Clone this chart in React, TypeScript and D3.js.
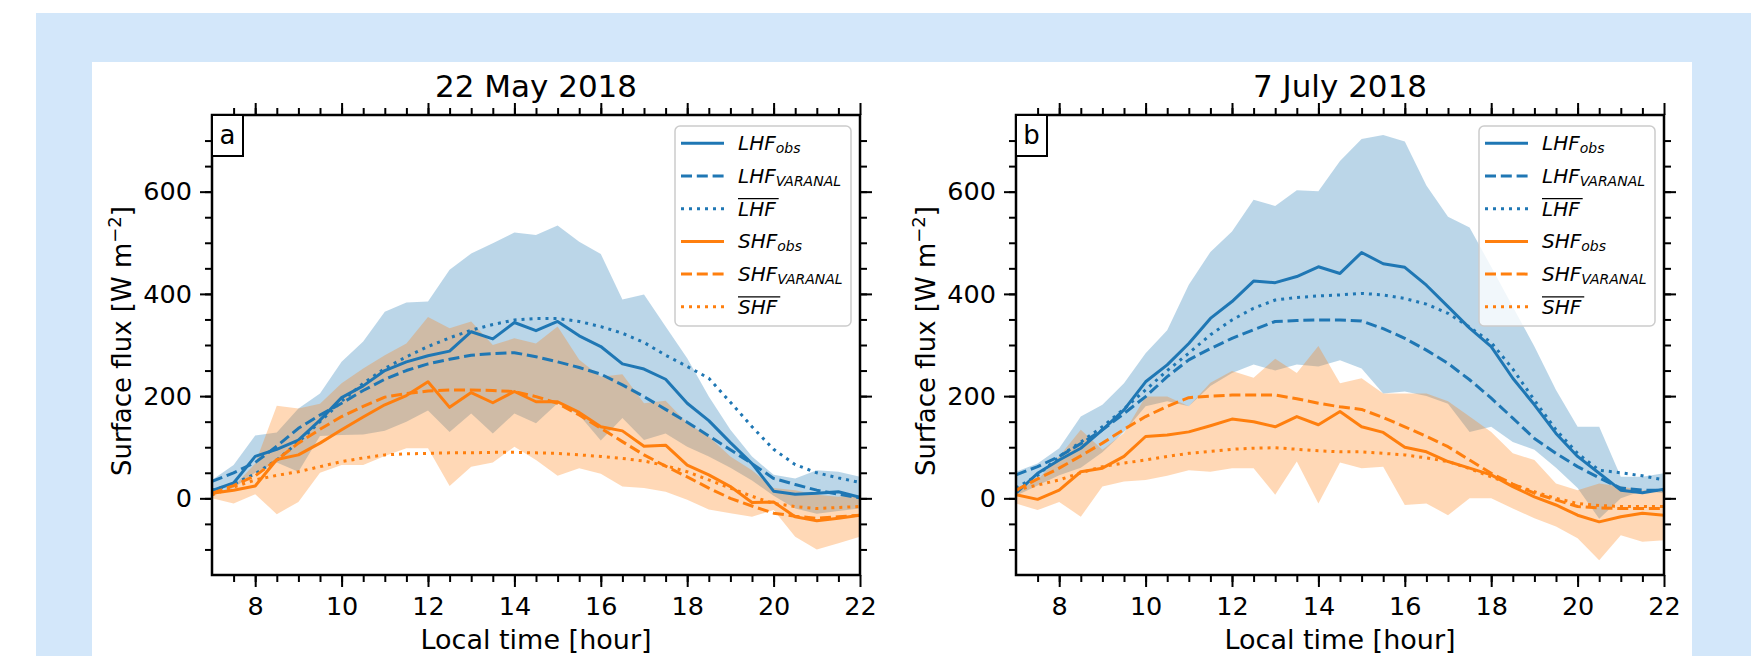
import React, { useEffect, useRef } from 'react';
import * as d3 from 'd3';

// half-hourly local time
const hours = [7, 7.5, 8, 8.5, 9, 9.5, 10, 10.5, 11, 11.5, 12, 12.5, 13, 13.5, 14, 14.5, 15, 15.5, 16, 16.5, 17, 17.5, 18, 18.5, 19, 19.5, 20, 20.5, 21, 21.5, 22];
const xTickLabels = [8, 10, 12, 14, 16, 18, 20, 22];
const yTickLabels = [0, 200, 400, 600];

const legendNames = ['LHF', 'LHF', 'LHF', 'SHF', 'SHF', 'SHF'];
const legendSubs = ['obs', 'VARANAL', '', 'obs', 'VARANAL', ''];
const legendStyles = ['solid', 'dashed', 'dotted', 'solid', 'dashed', 'dotted'];

// 22 May 2018
const mayLhfObs = [15, 30, 82, 96, 114, 153, 197, 220, 250, 267, 279, 288, 326, 312, 344, 328, 346, 318, 297, 263, 253, 233, 186, 152, 109, 68, 14, 8, 10, 13, 2];
const mayLhfVar = [33, 50, 70, 102, 137, 163, 186, 211, 233, 250, 263, 272, 280, 283, 285, 277, 267, 256, 243, 222, 199, 174, 149, 122, 95, 68, 39, 27, 16, 8, 1];
const mayLhfMean = [16, 28, 48, 75, 110, 150, 190, 225, 254, 277, 297, 314, 329, 340, 349, 352, 352, 346, 336, 323, 305, 280, 258, 235, 188, 140, 96, 66, 50, 40, 31];
const mayLhfHigh = [36, 65, 123, 129, 176, 205, 267, 307, 365, 383, 385, 447, 479, 499, 520, 515, 534, 502, 478, 389, 399, 336, 274, 199, 134, 82, 46, 39, 55, 52, 42];
const mayLhfLow = [5, 20, 50, 70, 52, 122, 124, 125, 132, 150, 172, 130, 166, 127, 166, 147, 186, 163, 113, 157, 114, 127, 101, 82, 60, 35, 5, -20, -30, -25, -20];
const mayShfObs = [10, 16, 24, 76, 85, 108, 134, 159, 183, 201, 228, 178, 207, 187, 209, 189, 189, 168, 140, 132, 102, 104, 65, 46, 23, -8, -7, -36, -44, -39, -33];
const mayShfVar = [10, 25, 44, 75, 108, 135, 160, 180, 198, 205, 210, 212, 212, 211, 209, 199, 186, 163, 137, 111, 85, 63, 42, 20, 0, -15, -29, -35, -39, -36, -33];
const mayShfMean = [7, 22, 36, 45, 52, 62, 72, 79, 85, 87, 88, 89, 89, 90, 90, 89, 88, 85, 82, 78, 73, 64, 52, 36, 20, 4, -10, -16, -20, -18, -16];
const mayShfHigh = [7, 23, 68, 181, 176, 185, 225, 254, 280, 303, 355, 333, 346, 300, 313, 303, 336, 271, 238, 243, 186, 191, 147, 121, 82, 55, 20, 16, 7, 3, 7];
const mayShfLow = [0, -10, 8, -31, -7, 50, 65, 65, 83, 98, 98, 24, 62, 70, 101, 75, 44, 59, 48, 23, 20, 13, -3, -22, -29, -36, -23, -75, -100, -88, -75];

// 7 July 2018
const julLhfObs = [10, 49, 75, 98, 134, 173, 228, 261, 303, 352, 385, 425, 422, 434, 453, 440, 481, 459, 452, 417, 375, 333, 297, 235, 183, 127, 82, 49, 16, 11, 18];
const julLhfVar = [46, 62, 82, 107, 134, 166, 199, 238, 271, 293, 313, 330, 346, 348, 349, 349, 347, 332, 313, 290, 264, 232, 196, 157, 117, 88, 62, 40, 20, 16, 16];
const julLhfMean = [20, 45, 82, 110, 140, 175, 212, 250, 284, 320, 349, 372, 388, 393, 396, 398, 401, 398, 391, 380, 362, 335, 305, 253, 192, 134, 88, 55, 50, 44, 36];
const julLhfHigh = [52, 68, 98, 160, 183, 225, 284, 329, 418, 482, 522, 584, 572, 603, 601, 660, 703, 711, 698, 612, 551, 530, 453, 375, 297, 212, 140, 140, 42, 42, 49];
const julLhfLow = [5, 25, 45, 60, 90, 130, 180, 190, 180, 220, 245, 262, 250, 262, 258, 270, 254, 205, 209, 200, 185, 130, 140, 110, 95, 60, 20, -40, 0, 15, 10];
const julShfObs = [7, -2, 16, 52, 59, 82, 121, 124, 130, 142, 155, 150, 140, 160, 144, 170, 140, 129, 100, 91, 72, 59, 46, 23, 3, -13, -33, -46, -36, -29, -33];
const julShfVar = [16, 38, 59, 83, 108, 135, 160, 180, 197, 200, 202, 202, 202, 195, 186, 179, 174, 158, 140, 121, 101, 75, 49, 28, 10, -3, -16, -19, -20, -20, -20];
const julShfMean = [16, 26, 36, 50, 62, 69, 75, 82, 88, 92, 96, 98, 99, 96, 93, 91, 91, 88, 85, 79, 72, 58, 42, 27, 13, 0, -10, -14, -16, -16, -16];
const julShfHigh = [16, 36, 82, 134, 95, 128, 199, 199, 180, 226, 249, 236, 273, 245, 298, 225, 235, 205, 205, 205, 190, 160, 130, 88, 75, 29, 16, 29, 23, 16, 16];
const julShfLow = [-10, -23, -7, -36, 23, 33, 36, 44, 55, 52, 59, 59, 7, 72, -10, 70, 59, 62, -13, -10, -33, 0, 0, -20, -39, -55, -78, -121, -72, -85, -82];

const BLUE = '#1f77b4';
const ORANGE = '#ff7f0e';
const FONT = 'DejaVu Sans';
const DASHES: Record<string, string | null> = { solid: null, dashed: '11,4.8', dotted: '3,5' };

type PanelData = {
    title: string;
    letter: string;
    lhf: number[][]; // obs, var, mean
    shf: number[][];
    lhfBand: number[][]; // low, high
    shfBand: number[][];
};

const panels: PanelData[] = [
    {
        title: '22 May 2018',
        letter: 'a',
        lhf: [mayLhfObs, mayLhfVar, mayLhfMean],
        shf: [mayShfObs, mayShfVar, mayShfMean],
        lhfBand: [mayLhfLow, mayLhfHigh],
        shfBand: [mayShfLow, mayShfHigh],
    },
    {
        title: '7 July 2018',
        letter: 'b',
        lhf: [julLhfObs, julLhfVar, julLhfMean],
        shf: [julShfObs, julShfVar, julShfMean],
        lhfBand: [julLhfLow, julLhfHigh],
        shfBand: [julShfLow, julShfHigh],
    },
];

const panelLefts = [212, 1016];
const panelWidth = 648;
const top = 115;
const bottom = 575;

function drawPanel(svg: d3.Selection<SVGSVGElement, unknown, null, undefined>, d: PanelData, left: number) {
    const right = left + panelWidth;
    const x = d3.scaleLinear().domain([7, 22]).range([left, right]);
    const y = d3.scaleLinear().domain([-150, 750]).range([bottom, top]);
    const g = svg.append('g');

    const clipId = 'clip-' + d.letter;
    g.append('clipPath')
        .attr('id', clipId)
        .append('rect')
        .attr('x', left)
        .attr('y', top)
        .attr('width', right - left)
        .attr('height', bottom - top);
    const plot = g.append('g').attr('clip-path', `url(#${clipId})`);

    // shaded ranges
    const band = (lo: number[], hi: number[]) =>
        d3
            .area<number>()
            .x((t) => x(t))
            .y0((_, i) => y(lo[i]))
            .y1((_, i) => y(hi[i]));
    plot.append('path').datum(hours).attr('d', band(d.lhfBand[0], d.lhfBand[1])).attr('fill', BLUE).attr('fill-opacity', 0.3);
    plot.append('path').datum(hours).attr('d', band(d.shfBand[0], d.shfBand[1])).attr('fill', ORANGE).attr('fill-opacity', 0.3);

    const line = (vals: number[]) =>
        d3
            .line<number>()
            .x((t) => x(t))
            .y((_, i) => y(vals[i]));
    const series = [...d.lhf.map((v) => [v, BLUE] as const), ...d.shf.map((v) => [v, ORANGE] as const)];
    series.forEach(([vals, color], i) => {
        const dash = DASHES[legendStyles[i]];
        plot.append('path')
            .datum(hours)
            .attr('d', line(vals))
            .attr('fill', 'none')
            .attr('stroke', color)
            .attr('stroke-width', 3)
            .attr('stroke-dasharray', dash)
            .attr('stroke-linejoin', 'round');
    });

    // axes: majors with labels on bottom/left, mirrored ticks on top/right
    const minorX = d3.range(7.5, 22, 0.5);
    const minorY = d3.range(-100, 750, 50);
    const styleAxis = (sel: d3.Selection<SVGGElement, unknown, null, undefined>) => {
        sel.select('.domain').remove();
        sel.attr('font-family', FONT).attr('font-size', 25.5);
        sel.selectAll('line').attr('stroke', '#000').attr('stroke-width', 2);
        sel.selectAll('text').attr('fill', '#000');
    };
    g.append('g').attr('transform', `translate(0,${bottom})`)
        .call(d3.axisBottom(x).tickValues(minorX).tickSize(7).tickFormat(() => '')).call(styleAxis);
    g.append('g').attr('transform', `translate(0,${bottom})`)
        .call(d3.axisBottom(x).tickValues(xTickLabels).tickSize(12).tickPadding(10).tickFormat(d3.format('d'))).call(styleAxis);
    g.append('g').attr('transform', `translate(0,${top})`)
        .call(d3.axisTop(x).tickValues(minorX).tickSize(7).tickFormat(() => '')).call(styleAxis);
    g.append('g').attr('transform', `translate(0,${top})`)
        .call(d3.axisTop(x).tickValues(xTickLabels).tickSize(12).tickFormat(() => '')).call(styleAxis);
    g.append('g').attr('transform', `translate(${left},0)`)
        .call(d3.axisLeft(y).tickValues(minorY).tickSize(7).tickFormat(() => '')).call(styleAxis);
    g.append('g').attr('transform', `translate(${left},0)`)
        .call(d3.axisLeft(y).tickValues(yTickLabels).tickSize(12).tickPadding(8).tickFormat(d3.format('d'))).call(styleAxis);
    g.append('g').attr('transform', `translate(${right},0)`)
        .call(d3.axisRight(y).tickValues(minorY).tickSize(7).tickFormat(() => '')).call(styleAxis);
    g.append('g').attr('transform', `translate(${right},0)`)
        .call(d3.axisRight(y).tickValues(yTickLabels).tickSize(12).tickFormat(() => '')).call(styleAxis);

    // frame
    g.append('rect')
        .attr('x', left)
        .attr('y', top)
        .attr('width', right - left)
        .attr('height', bottom - top)
        .attr('fill', 'none')
        .attr('stroke', '#000')
        .attr('stroke-width', 2.5);

    // panel letter
    g.append('rect')
        .attr('x', left)
        .attr('y', top)
        .attr('width', 31)
        .attr('height', 41)
        .attr('fill', '#fff')
        .attr('stroke', '#000')
        .attr('stroke-width', 2);
    g.append('text')
        .attr('x', left + 15.5)
        .attr('y', top + 29)
        .attr('text-anchor', 'middle')
        .attr('font-family', FONT)
        .attr('font-size', 26)
        .text(d.letter);

    // title and axis labels
    g.append('text')
        .attr('x', (left + right) / 2)
        .attr('y', 97)
        .attr('text-anchor', 'middle')
        .attr('font-family', FONT)
        .attr('font-size', 31)
        .text(d.title);
    g.append('text')
        .attr('x', (left + right) / 2)
        .attr('y', 649)
        .attr('text-anchor', 'middle')
        .attr('font-family', FONT)
        .attr('font-size', 27)
        .text('Local time [hour]');
    const yl = g.append('text')
        .attr('transform', `translate(${left - 81},${(top + bottom) / 2 - 4}) rotate(-90)`)
        .attr('text-anchor', 'middle')
        .attr('font-family', FONT)
        .attr('font-size', 26);
    yl.append('tspan').text('Surface flux [W m');
    yl.append('tspan').attr('font-size', 18).attr('dy', -10).text('\u22122');
    yl.append('tspan').attr('dy', 10).text(']');

    // legend
    const lx = right - 185;
    const ly = 126;
    const leg = g.append('g');
    leg.append('rect')
        .attr('x', lx)
        .attr('y', ly)
        .attr('width', 176)
        .attr('height', 200)
        .attr('rx', 5)
        .attr('fill', '#fff')
        .attr('fill-opacity', 0.8)
        .attr('stroke', '#cccccc')
        .attr('stroke-width', 1.5);
    legendNames.forEach((name, i) => {
        const cy = ly + 17.3 + i * 32.7;
        leg.append('line')
            .attr('x1', lx + 6)
            .attr('x2', lx + 49)
            .attr('y1', cy)
            .attr('y2', cy)
            .attr('stroke', i < 3 ? BLUE : ORANGE)
            .attr('stroke-width', 3)
            .attr('stroke-dasharray', DASHES[legendStyles[i]]);
        const t = leg.append('text')
            .attr('x', lx + 63)
            .attr('y', cy + 7)
            .attr('font-family', FONT)
            .attr('font-style', 'italic')
            .attr('font-size', 20)
            .attr('fill', '#000');
        const main = t.append('tspan').text(name);
        if (legendSubs[i]) {
            t.append('tspan').attr('font-size', 14).attr('dy', 3).text(legendSubs[i]);
        } else {
            const len = (main.node() as SVGTSpanElement).getComputedTextLength();
            leg.append('line')
                .attr('x1', lx + 63)
                .attr('x2', lx + 63 + len + 3)
                .attr('y1', cy + 7 - 17)
                .attr('y2', cy + 7 - 17)
                .attr('stroke', '#000')
                .attr('stroke-width', 1.3);
        }
    });
}

const App: React.FC = () => {
    const ref = useRef<SVGSVGElement>(null);

    useEffect(() => {
        const svg = d3.select(ref.current as SVGSVGElement);
        svg.selectAll('*').remove();

        svg.append('rect').attr('width', 1751).attr('height', 656).attr('fill', '#fff');
        svg.append('rect').attr('x', 36).attr('y', 13).attr('width', 1715).attr('height', 643).attr('fill', '#d3e7fa');
        svg.append('rect').attr('x', 92).attr('y', 62).attr('width', 1600).attr('height', 594).attr('fill', '#fff');

        panels.forEach((p, i) => drawPanel(svg, p, panelLefts[i]));
    }, []);

    return (
        <svg
            ref={ref}
            width={1751}
            height={656}
            style={{ position: 'absolute', left: 0, top: 0, display: 'block' }}
        ></svg>
    );
};

export default App;
